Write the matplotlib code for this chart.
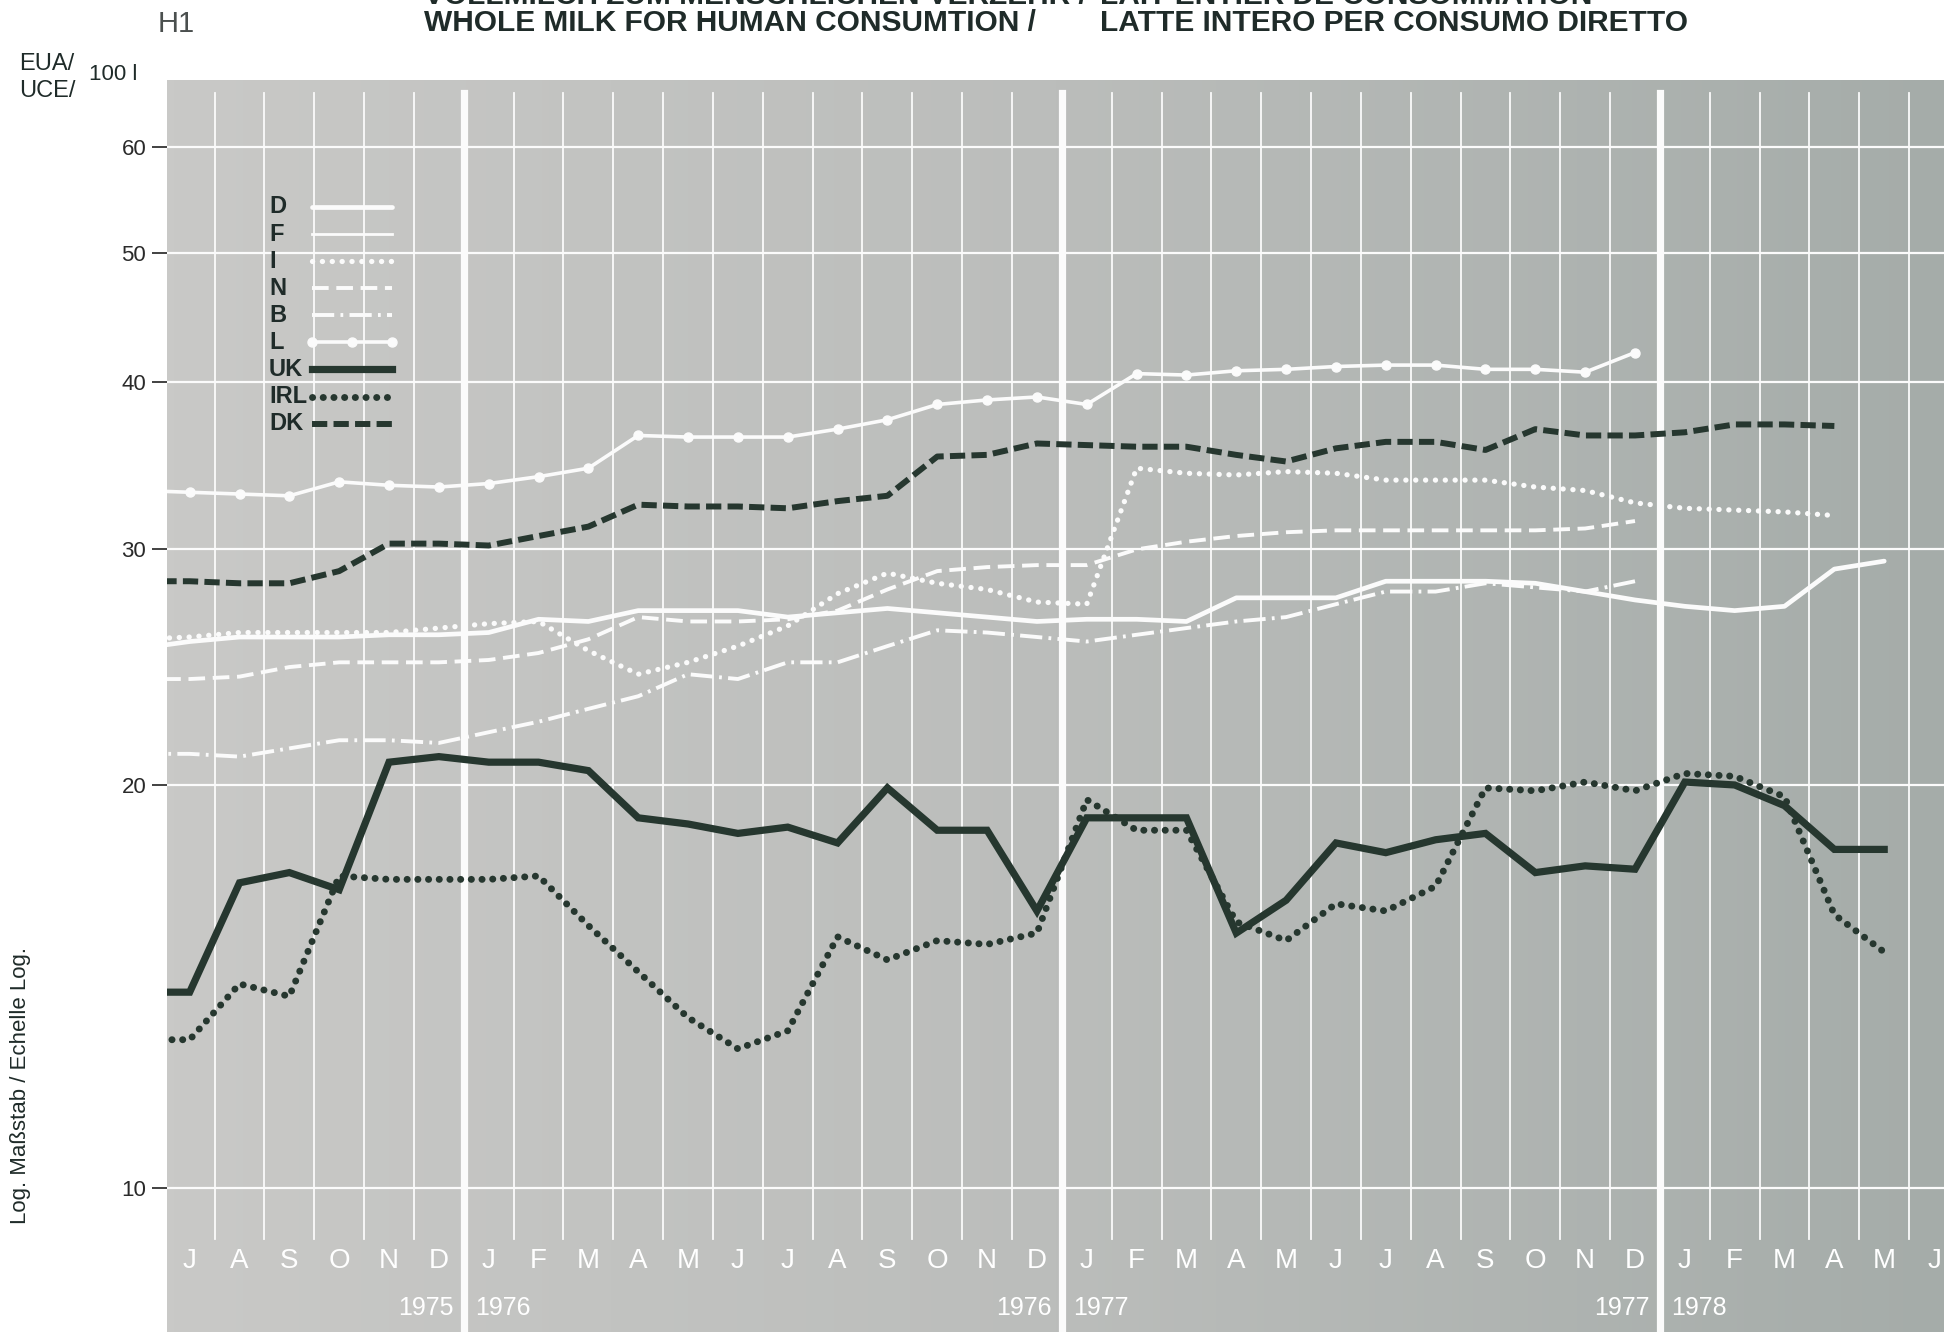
import numpy as np
import matplotlib
matplotlib.use("Agg")
import matplotlib.pyplot as plt
import matplotlib.transforms as mtransforms
from matplotlib.lines import Line2D
from matplotlib.colors import LinearSegmentedColormap

# ---------------- data ----------------
# month labels, July 1975 .. June 1978 (x = 0 .. 35)
MONTH_LABELS = ["J", "A", "S", "O", "N", "D",
                "J", "F", "M", "A", "M", "J", "J", "A", "S", "O", "N", "D",
                "J", "F", "M", "A", "M", "J", "J", "A", "S", "O", "N", "D",
                "J", "F", "M", "A", "M", "J"]
YEAR_BREAKS = [5.5, 17.5, 29.5]
YEAR_LABELS = [("1975", "1976"), ("1976", "1977"), ("1977", "1978")]
Y_TICKS = [10, 20, 30, 40, 50, 60]

# series values, EUA/100 l, starting June 1975 (x = -1)
D_vals = [25.3, 25.6, 25.8, 25.8, 25.8, 25.9, 25.9, 26.0, 26.6, 26.5, 27.0, 27.0,
          27.0, 26.7, 26.9, 27.1, 26.9, 26.7, 26.5, 26.6, 26.6, 26.5, 27.6, 27.6,
          27.6, 28.4, 28.4, 28.4, 28.3, 27.9, 27.5, 27.2, 27.0, 27.2, 29.0, 29.4]
F_vals = [25.3, 25.6, 25.8, 25.8, 25.8, 25.9, 25.9, 26.0, 26.6, 26.5, 27.0, 27.0,
          27.0, 26.7, 26.9, 27.1, 26.9, 26.7, 26.5, 26.6, 26.6, 26.5, 27.6, 27.6,
          27.6, 28.4, 28.4, 28.4, 28.3, 27.9, 27.5, 27.2, 27.0, 27.2, 29.0, 29.4]
I_vals = [25.7, 25.8, 26.0, 26.0, 26.0, 26.0, 26.2, 26.4, 26.5, 25.2, 24.2, 24.7,
          25.4, 26.3, 27.8, 28.8, 28.3, 28.0, 27.4, 27.3, 34.5, 34.2, 34.1, 34.3,
          34.2, 33.8, 33.8, 33.8, 33.4, 33.2, 32.5, 32.2, 32.1, 32.0, 31.8]
N_vals = [24.0, 24.0, 24.1, 24.5, 24.7, 24.7, 24.7, 24.8, 25.1, 25.7, 26.7, 26.5,
          26.5, 26.6, 27.0, 28.0, 28.9, 29.1, 29.2, 29.2, 30.0, 30.4, 30.7, 30.9,
          31.0, 31.0, 31.0, 31.0, 31.0, 31.1, 31.5]
B_vals = [21.1, 21.1, 21.0, 21.3, 21.6, 21.6, 21.5, 21.9, 22.3, 22.8, 23.3, 24.2,
          24.0, 24.7, 24.7, 25.4, 26.1, 26.0, 25.8, 25.6, 25.9, 26.2, 26.5, 26.7,
          27.3, 27.9, 27.9, 28.3, 28.1, 27.9, 28.4]
L_vals = [33.2, 33.1, 33.0, 32.9, 33.7, 33.5, 33.4, 33.6, 34.0, 34.5, 36.5, 36.4,
          36.4, 36.4, 36.9, 37.5, 38.5, 38.8, 39.0, 38.5, 40.6, 40.5, 40.8, 40.9,
          41.1, 41.2, 41.2, 40.9, 40.9, 40.7, 42.1]
UK_vals = [14.0, 14.0, 16.9, 17.2, 16.7, 20.8, 21.0, 20.8, 20.8, 20.5, 18.9, 18.7,
           18.4, 18.6, 18.1, 19.9, 18.5, 18.5, 16.1, 18.9, 18.9, 18.9, 15.5, 16.4,
           18.1, 17.8, 18.2, 18.4, 17.2, 17.4, 17.3, 20.1, 20.0, 19.3, 17.9, 17.9]
IRL_vals = [12.9, 12.9, 14.2, 13.9, 17.1, 17.0, 17.0, 17.0, 17.1, 15.7, 14.5, 13.4,
            12.7, 13.1, 15.4, 14.8, 15.3, 15.2, 15.5, 19.5, 18.5, 18.5, 15.8, 15.3,
            16.3, 16.1, 16.8, 19.9, 19.8, 20.1, 19.8, 20.4, 20.3, 19.6, 16.0, 15.0]
DK_vals = [28.4, 28.4, 28.3, 28.3, 28.9, 30.3, 30.3, 30.2, 30.7, 31.2, 32.4, 32.3,
           32.3, 32.2, 32.6, 32.9, 35.2, 35.3, 36.0, 35.9, 35.8, 35.8, 35.3, 34.9,
           35.7, 36.1, 36.1, 35.6, 36.9, 36.5, 36.5, 36.7, 37.2, 37.2, 37.1]

# ---------------- styling ----------------
plt.rcParams['lines.scale_dashes'] = False
WHITE = "#fbfbfb"
DARK = "#26372f"
TXT = "#1f2b29"
SANS = ["Liberation Sans", "DejaVu Sans"]

fig = plt.figure(figsize=(19.44, 13.32), dpi=100)
fig.patch.set_facecolor("white")
ax = fig.add_axes([167 / 1944, 0, 1 - 167 / 1944, 1252 / 1332])

# background gradient
grad = np.linspace(0, 1, 256).reshape(1, -1)
cmap = LinearSegmentedColormap.from_list("bg", ["#c9c9c7", "#bbbdbb", "#a5aca9"])
ax.imshow(grad, extent=[0, 1, 0, 1], transform=ax.transAxes, aspect="auto",
          cmap=cmap, zorder=0)

ax.set_yscale("log")
ax.set_xlim(-0.455, 35.2)
ax.set_ylim(7.80, 67.3)
for s in ax.spines.values():
    s.set_visible(False)

# grid
for y in Y_TICKS:
    ax.axhline(y, color=WHITE, lw=1.6, zorder=1)
for b in np.arange(0.5, 35.0, 1.0):
    if b in YEAR_BREAKS:
        ax.axvline(b, ymin=0, ymax=0.9896, color=WHITE, lw=5.2, zorder=1)
    else:
        ax.axvline(b, ymin=0.074, ymax=0.9896, color=WHITE, lw=1.3, zorder=1)

# axis ticks
ax.set_yticks(Y_TICKS)
ax.set_yticklabels([str(v) for v in Y_TICKS])
ax.yaxis.set_minor_locator(matplotlib.ticker.NullLocator())
ax.tick_params(axis="y", which="major", length=11, width=1.3, color="#333333",
               pad=4, labelsize=16, labelcolor="#2a2a2a", direction="out")
for lab in ax.get_yticklabels():
    lab.set_family(SANS)
ax.set_xticks([])

# month and year labels
blend = mtransforms.blended_transform_factory(ax.transData, ax.transAxes)
for i, m in enumerate(MONTH_LABELS):
    ax.text(i, 0.057, m, transform=blend, ha="center", va="center",
            color="white", fontsize=20, family=SANS, zorder=3)
for b, (a, c) in zip(YEAR_BREAKS, YEAR_LABELS):
    ax.text(b - 0.2, 0.019, a, transform=blend, ha="right", va="center",
            color="white", fontsize=18, family=SANS, zorder=3)
    ax.text(b + 0.22, 0.019, c, transform=blend, ha="left", va="center",
            color="white", fontsize=18, family=SANS, zorder=3)

# series
def xs(vals):
    return np.arange(-1, len(vals) - 1)

styles = {
    "D": dict(color=WHITE, lw=3.4, solid_capstyle="round"),
    "F": dict(color=WHITE, lw=2.0),
    "I": dict(color=WHITE, lw=3.8, linestyle=(0, (0.1, 7.0)), dash_capstyle="round"),
    "N": dict(color=WHITE, lw=2.8, linestyle=(0, (12, 5.5))),
    "B": dict(color=WHITE, lw=2.8, linestyle=(0, (16, 4.5, 2, 4.5))),
    "L": dict(color=WHITE, lw=2.6, marker="o", ms=6.5, mfc=WHITE, mec=WHITE),
    "UK": dict(color=DARK, lw=5.2, solid_joinstyle="miter"),
    "IRL": dict(color=DARK, lw=5.0, linestyle=(0, (0.1, 7.6)), dash_capstyle="round"),
    "DK": dict(color=DARK, lw=4.3, linestyle=(0, (11, 4.5))),
}
series = [("B", B_vals, 3), ("N", N_vals, 3), ("I", I_vals, 3), ("D", D_vals, 3),
          ("F", F_vals, 3), ("L", L_vals, 3), ("DK", DK_vals, 4),
          ("IRL", IRL_vals, 5), ("UK", UK_vals, 6)]
for name, vals, z in series:
    ax.plot(xs(vals), vals, zorder=z, **styles[name])

# legend (manual, keys in axes coordinates)
leg_order = ["D", "F", "I", "N", "B", "L", "UK", "IRL", "DK"]
y0, dy = 0.8986, 0.02163
for k, name in enumerate(leg_order):
    yy = y0 - k * dy
    ax.text(0.0574, yy, name, transform=ax.transAxes, ha="left", va="center",
            fontsize=17, fontweight="bold", color=TXT, family=SANS, zorder=7)
    st = dict(styles[name])
    if name == "L":
        ln = Line2D([0.0816, 0.1041, 0.1266], [yy, yy, yy], transform=ax.transAxes, **st)
    else:
        ln = Line2D([0.0816, 0.1266], [yy, yy], transform=ax.transAxes, **st)
    ln.set_zorder(7)
    ax.add_line(ln)

# header texts
fig.text(158 / 1944, 1 - 24 / 1332, "H1", fontsize=21, color="#4a4f4e",
         family=SANS, va="center", ha="left")
fig.text(424 / 1944, 1 - 4 / 1332, "VOLLMILCH ZUM MENSCHLICHEN VERZEHR /",
         fontsize=21.5, fontweight="bold", color=TXT,
         family=SANS, va="baseline", ha="left")
fig.text(1100 / 1944, 1 - 4 / 1332, "LAIT ENTIER DE CONSOMMATION",
         fontsize=21.5, fontweight="bold", color=TXT,
         family=SANS, va="baseline", ha="left")
fig.text(424 / 1944, 1 - 23 / 1332, "WHOLE MILK FOR HUMAN CONSUMTION /",
         fontsize=21.5, fontweight="bold", color=TXT,
         family=SANS, va="center", ha="left")
fig.text(1100 / 1944, 1 - 23 / 1332, "LATTE INTERO PER CONSUMO DIRETTO",
         fontsize=21.5, fontweight="bold", color=TXT,
         family=SANS, va="center", ha="left")

fig.text(19 / 1944, 1 - 64 / 1332, "EUA/", fontsize=17, color=TXT,
         family=SANS, va="center", ha="left")
fig.text(19 / 1944, 1 - 91 / 1332, "UCE/", fontsize=17, color=TXT,
         family=SANS, va="center", ha="left")
fig.text(89 / 1944, 1 - 75 / 1332, "100 l", fontsize=16, color=TXT,
         family=SANS, va="center", ha="left")
fig.text(21 / 1944, 1 - 1085 / 1332, "Log. Maßstab / Echelle Log.", fontsize=16,
         color=TXT, family=SANS, rotation=90, va="center", ha="center")

fig.savefig("out.png", dpi=100)
